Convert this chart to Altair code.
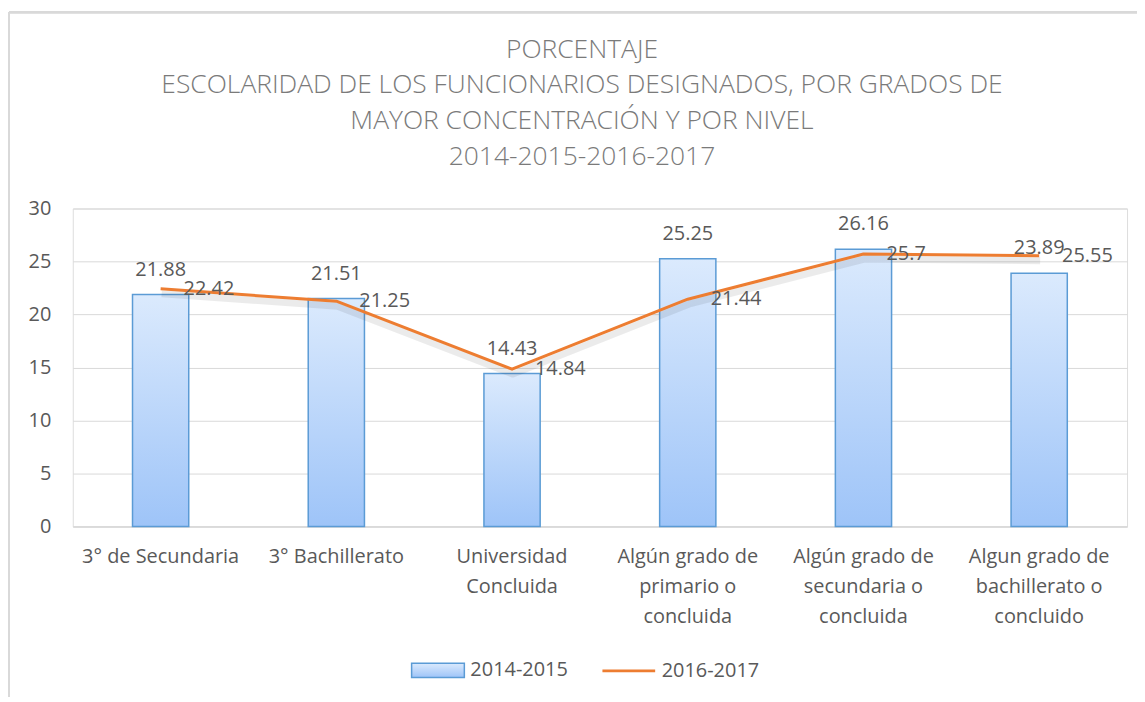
import altair as alt
import pandas as pd

categorias = [
    "3° de Secundaria",
    "3° Bachillerato",
    "Universidad|Concluida",
    "Algún grado de|primario o|concluida",
    "Algún grado de|secundaria o|concluida",
    "Algun grado de|bachillerato o|concluido",
]
serie_2014_2015 = [21.88, 21.51, 14.43, 25.25, 26.16, 23.89]
serie_2016_2017 = [22.42, 21.25, 14.84, 21.44, 25.7, 25.55]
etiquetas_2014_2015 = ["21.88", "21.51", "14.43", "25.25", "26.16", "23.89"]
etiquetas_2016_2017 = ["22.42", "21.25", "14.84", "21.44", "25.7", "25.55"]
y_ticks = [0, 5, 10, 15, 20, 25, 30]
titulo = [
    "PORCENTAJE",
    "ESCOLARIDAD DE LOS FUNCIONARIOS DESIGNADOS, POR GRADOS DE",
    "MAYOR CONCENTRACIÓN Y POR NIVEL",
    "2014-2015-2016-2017",
]

df = pd.DataFrame({
    "cat": categorias,
    "b": serie_2014_2015,
    "l": serie_2016_2017,
    "tb": etiquetas_2014_2015,
    "tl": etiquetas_2016_2017,
    "sb": "2014-2015",
    "sl": "2016-2017",
})

FONT = "Open Sans"
GRAY = "#595959"

x = alt.X(
    "cat:N", sort=categorias, title=None,
    scale=alt.Scale(paddingInner=0.68, paddingOuter=0.34),
    axis=alt.Axis(labelAngle=0, labelExpr="split(datum.label, '|')",
                  labelLineHeight=30, labelFontSize=20, labelColor=GRAY,
                  labelFont=FONT, ticks=False, domainColor="#d9d9d9",
                  domainWidth=1.5, labelPadding=20, labelBaseline="top"),
)
yscale = alt.Scale(domain=[0, 30])

grad = alt.Gradient(
    gradient="linear",
    stops=[alt.GradientStop(color="#dbeafd", offset=0),
           alt.GradientStop(color="#9ec4f8", offset=1)],
    x1=0, x2=0, y1=0, y2=1,
)

base = alt.Chart(df)

bars = base.mark_bar(fill=grad, strokeWidth=1.5).encode(
    x=x,
    y=alt.Y("b:Q", scale=yscale, title=None,
            axis=alt.Axis(values=y_ticks, domain=False, ticks=False,
                          gridColor="#d9d9d9", labelPadding=22,
                          labelFontSize=20, labelColor=GRAY, labelFont=FONT)),
    stroke=alt.Stroke("sb:N", scale=alt.Scale(range=["#5b9bd5"]),
                      legend=alt.Legend(title=None, orient="none",
                                        legendX=339, legendY=436,
                                        symbolType="M-1,-0.27H1V0.27H-1Z",
                                        symbolSize=2800,
                                        symbolFillColor="#cfe2fb",
                                        symbolStrokeWidth=1.5,
                                        labelFontSize=20, labelColor=GRAY,
                                        labelFont=FONT, labelOffset=5)),
)

bar_text = base.mark_text(dy=-25, fontSize=20, color=GRAY, font=FONT,
                          baseline="middle").encode(
    x=x, y=alt.Y("b:Q", scale=yscale), text="tb:N")

shadow = base.mark_line(color="#000000", opacity=0.08, strokeWidth=7,
                        yOffset=5, xOffset=1, strokeJoin="round").encode(
    x=x, y=alt.Y("l:Q", scale=yscale))

line = base.mark_line(strokeWidth=3, strokeJoin="round").encode(
    x=x, y=alt.Y("l:Q", scale=yscale),
    color=alt.Color("sl:N", scale=alt.Scale(range=["#ed7d31"]),
                    legend=alt.Legend(title=None, orient="none",
                                      legendX=530, legendY=436,
                                      symbolType="stroke", symbolSize=2800,
                                      symbolStrokeWidth=3,
                                      labelFontSize=20, labelColor=GRAY,
                                      labelFont=FONT, labelOffset=5)),
)

line_text = base.mark_text(dx=23, fontSize=20, color=GRAY, font=FONT,
                           align="left", baseline="middle").encode(
    x=x, y=alt.Y("l:Q", scale=yscale), text="tl:N")

frame_left = base.mark_rule(color="#d9d9d9", strokeWidth=2, clip=False).encode(
    x=alt.value(-64), y=alt.value(-197), y2=alt.value(494))
frame_top = base.mark_rule(color="#d9d9d9", strokeWidth=2, clip=False).encode(
    x=alt.value(-64), x2=alt.value(1080), y=alt.value(-197))

chart = alt.layer(frame_left, frame_top, bars, bar_text, shadow, line, line_text).properties(
    width=1058, height=319,
    autosize=alt.AutoSizeParams(type="none"),
    padding={"left": 65, "top": 200, "right": 10, "bottom": 170},
    title=alt.TitleParams(text=titulo, fontSize=26.5, font=FONT, fontWeight=300,
                          color="#7a7a7a", lineHeight=36, offset=-160, dx=-18,
                          anchor="middle"),
).configure_view(stroke=None).configure(background="white")

chart.save("out.html", embed_options={"renderer": "svg", "actions": False})
